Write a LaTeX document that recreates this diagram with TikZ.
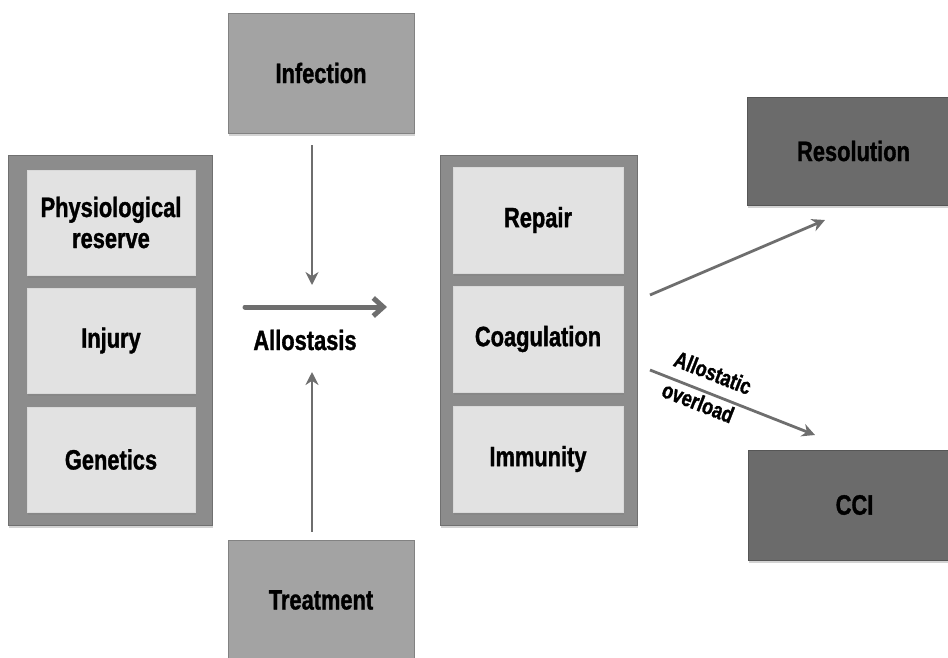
\documentclass[tikz,border=0pt]{standalone}
\usepackage{fontspec}
\setmainfont{Liberation Sans}[FakeStretch=0.78,FakeBold=1.2]
\usetikzlibrary{arrows.meta,shadows}
\definecolor{outerg}{HTML}{8C8C8C}
\definecolor{innerg}{HTML}{E2E2E2}
\definecolor{midg}{HTML}{A3A3A3}
\definecolor{darkg}{HTML}{6B6B6B}
\definecolor{arrg}{HTML}{6E6E6E}
\tikzset{
  shad/.style={drop shadow={opacity=0.35,shadow xshift=1pt,shadow yshift=-2.5pt}},
  outerbox/.style={draw=outerg!80!black,line width=0.8pt,fill=outerg,shad,minimum width=204pt,minimum height=370pt},
  innerbox/.style={draw=white!70!gray,line width=0.8pt,fill=innerg,shad,minimum width=168pt,minimum height=105pt,align=center,font=\fontsize{28}{31}\selectfont\bfseries},
  midbox/.style={draw=midg!80!black,line width=0.8pt,fill=midg,shad,minimum width=186pt,minimum height=120pt,font=\fontsize{28}{31}\selectfont\bfseries},
  darkbox/.style={draw=darkg!80!black,line width=0.8pt,fill=darkg,shad,minimum width=213pt,minimum height=108pt,font=\fontsize{28}{31}\selectfont\bfseries},
  thinarrow/.style={draw=arrg,line width=2.8pt,-{Stealth[length=13pt,width=13pt]}},
  thickarrow/.style={draw=arrg,line width=5pt,line cap=round,-{Straight Barb[length=10pt,width=18pt,line width=5pt]}},
  lbl/.style={font=\fontsize{28}{31}\selectfont\bfseries}
}
\begin{document}
\begin{tikzpicture}[x=1pt,y=-1pt]
\useasboundingbox (0,0) rectangle (948,657);
\clip (0,0) rectangle (948,657);
% left column
\node[outerbox] (lout) at (110,340) {};
\node[innerbox] (phys) at (111,222.5) {Physiological\\reserve};
\node[innerbox] (inj) at (111,340.5) {Injury};
\node[innerbox] (gen) at (111,459.5) {Genetics};
% middle column
\node[outerbox,minimum width=197pt] (mout) at (538.5,340) {};
\node[innerbox,minimum width=170pt,minimum height=106pt] (rep) at (538,220) {Repair};
\node[innerbox,minimum width=170pt,minimum height=106pt] (coag) at (538,339) {Coagulation};
\node[innerbox,minimum width=170pt,minimum height=106pt] (imm) at (538,459) {Immunity};
% top / bottom
\node[midbox] (inf) at (321,73) {Infection};
\node[midbox] (trt) at (321,600) {Treatment};
% right
\node[darkbox] (res) at (853.5,151) {Resolution};
\node[darkbox,minimum height=110pt] (cci) at (854.5,505) {CCI};
% allostasis
\node[lbl] (allo) at (305,340) {Allostasis};
\coordinate (infend) at (312,285);
\coordinate (trtend) at (312,372);
\coordinate (astart) at (245,307);
\coordinate (aend) at (387,307);
\coordinate (rstart) at (650,295);
\coordinate (rend) at (825,220);
\coordinate (ostart) at (650,370);
\coordinate (oend) at (815,435);
\draw[thinarrow] ([yshift=-12pt]inf.south -| infend) -- (infend);
\draw[thinarrow] ([yshift=8pt]trt.north -| trtend) -- (trtend);
\draw[thickarrow] (astart) -- (aend);
\draw[thinarrow] (rstart) -- (rend);
\draw[thinarrow] (ostart) -- (oend);
\node[lbl,font=\fontsize{23}{33}\selectfont\bfseries,align=left,rotate=-21.5] (ovl) at (707,388) {Allostatic\\overload};
\end{tikzpicture}
\end{document}
